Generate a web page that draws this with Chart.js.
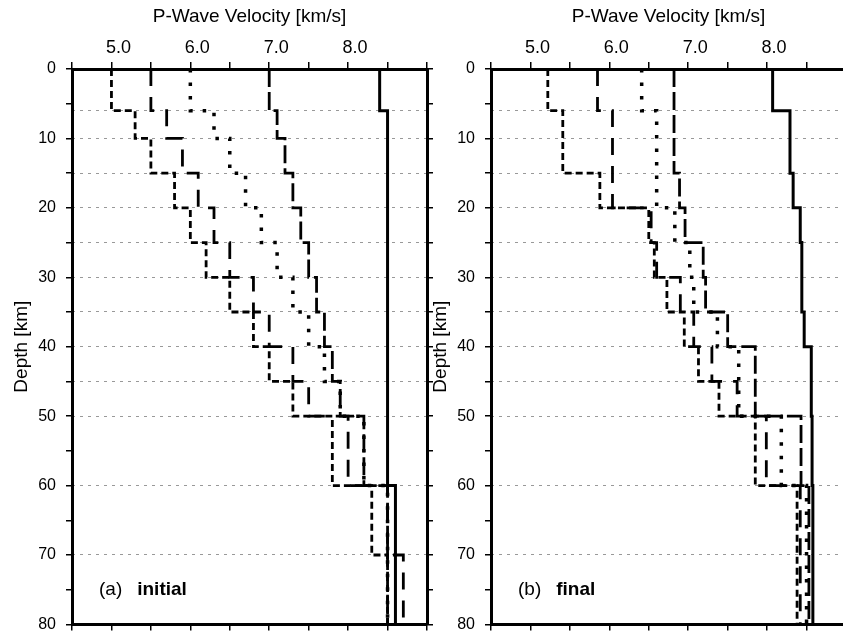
<!DOCTYPE html>
<html>
<head>
<meta charset="utf-8">
<script src="https://cdn.jsdelivr.net/npm/chart.js@4.4.1/dist/chart.umd.min.js"></script>
<style>
  html, body { margin: 0; padding: 0; background: #fff; overflow: hidden; width: 843px; height: 644px; }
  canvas { position: absolute; top: 0; }
  #initial { left: 0; }
  #final { left: 419px; }
</style>
</head>
<body>
<canvas id="initial" width="436" height="644"></canvas>
<canvas id="final" width="436" height="644"></canvas>
<script>
// layer tops [km]; each layer runs down to the next top, the last one to 80 km
const layerTops = [0, 6, 10, 15, 20, 25, 30, 35, 40, 45, 50, 60, 70];
const maxDepth = 80;
// dotted lines across the panels at the model interfaces
const interfaces = [6, 10, 15, 20, 25, 30, 35, 40, 45, 50, 60, 70];

// (a) initial models, velocity per layer [km/s]
const initShortDash = [5.0, 5.3, 5.5, 5.8, 6.0, 6.2, 6.5, 6.8, 7.0, 7.3, 7.8, 8.3, 8.5];
const initLongDash  = [5.5, 5.7, 5.9, 6.1, 6.3, 6.5, 6.8, 7.0, 7.3, 7.5, 8.0, 8.5, 8.7];
const initDotted    = [6.0, 6.3, 6.5, 6.7, 6.9, 7.1, 7.3, 7.5, 7.7, 7.9, 8.2, 8.5, 8.5];
const initDashDot   = [7.0, 7.1, 7.2, 7.3, 7.4, 7.5, 7.6, 7.7, 7.8, 7.9, 8.2, 8.5, 8.5];
const initSolid     = [8.4, 8.5, 8.5, 8.5, 8.5, 8.5, 8.5, 8.5, 8.5, 8.5, 8.5, 8.6, 8.6];

// (b) final models
const finalShortDash = [5.22, 5.41, 5.41, 5.88, 6.50, 6.57, 6.73, 6.95, 7.13, 7.39, 7.85, 8.38, 8.38];
const finalLongDash  = [5.85, 6.04, 6.04, 6.04, 6.53, 6.60, 6.90, 7.07, 7.30, 7.62, 7.99, 8.42, 8.42];
const finalDotted    = [6.41, 6.60, 6.60, 6.60, 6.83, 7.02, 7.07, 7.37, 7.64, 7.64, 8.18, 8.50, 8.50];
const finalDashDot   = [6.82, 6.82, 6.82, 6.89, 6.96, 7.19, 7.22, 7.50, 7.85, 7.85, 8.43, 8.53, 8.53];
const finalSolid     = [8.07, 8.29, 8.29, 8.33, 8.42, 8.44, 8.44, 8.47, 8.56, 8.56, 8.57, 8.58, 8.58];

const family = '"Liberation Sans", Arial, Helvetica, sans-serif';

// line styles, same order as the series
const lineStyles = [
  { dash: [7, 4], width: 2.8 },
  { dash: [17, 11], width: 2.8 },
  { dash: [3.5, 10], width: 3.5 },
  { dash: [18, 5], width: 2.8 },
  { dash: [], width: 3 },
];

function profile(vel) {
  const pts = vel.map((v, i) => ({ x: v, y: layerTops[i] }));
  pts.push({ x: vel[vel.length - 1], y: maxDepth });
  return pts;
}

const panelLabel = {
  id: 'panelLabel',
  afterDraw(chart, args, opts) {
    const { ctx, chartArea } = chart;
    const x = chartArea.left + 27;
    const y = chartArea.bottom - 29;
    ctx.save();
    ctx.fillStyle = '#000';
    ctx.textBaseline = 'alphabetic';
    ctx.font = '19px ' + family;
    ctx.fillText(opts.tag, x, y);
    const w = ctx.measureText(opts.tag).width;
    ctx.font = 'bold 19px ' + family;
    ctx.fillText(opts.word, x + w + 15, y);
    ctx.restore();
  }
};

const frame = { display: true, color: '#000', width: 3 };
const tickMarks = (len) => ({ drawOnChartArea: false, color: '#000', lineWidth: 1.5, tickLength: len });

function makeChart(id, series, tag, word) {
  new Chart(document.getElementById(id), {
    type: 'line',
    data: {
      datasets: series.map((vel, i) => ({
        data: profile(vel),
        xAxisID: 'x',
        yAxisID: 'y',
        stepped: 'after',
        borderColor: '#000',
        borderWidth: lineStyles[i].width,
        borderDash: lineStyles[i].dash,
        pointRadius: 0,
        fill: false,
      })),
    },
    plugins: [panelLabel],
    options: {
      responsive: false,
      animation: false,
      events: [],
      layout: { padding: 0 },
      plugins: {
        legend: { display: false },
        tooltip: { enabled: false },
        panelLabel: { tag, word },
      },
      scales: {
        x: {
          type: 'linear', position: 'top', min: 4.5, max: 9,
          afterFit: (s) => { s.height = 69; },
          ticks: {
            stepSize: 0.5, autoSkip: false, maxRotation: 0, padding: 3, labelOffset: 7,
            color: '#000', font: { family, size: 18 },
            callback: (v) => (Number.isInteger(v) && v < 9 ? v.toFixed(1) : ''),
          },
          grid: tickMarks(7),
          border: frame,
          title: {
            display: true, text: 'P-Wave Velocity [km/s]', color: '#000',
            font: { family, size: 19 }, padding: { top: 5, bottom: 0 },
          },
        },
        x2: {
          type: 'linear', position: 'bottom', min: 4.5, max: 9,
          afterFit: (s) => { s.height = 10; },
          ticks: { stepSize: 0.5, autoSkip: false, callback: () => '' },
          grid: tickMarks(6),
          border: frame,
        },
        y: {
          type: 'linear', position: 'left', reverse: true, min: 0, max: 80,
          afterFit: (s) => { s.width = 72; },
          ticks: {
            stepSize: 5, autoSkip: false, padding: 10,
            color: '#000', font: { family, size: 16 },
            callback: (v) => (v % 10 === 0 ? String(v) : ''),
          },
          grid: tickMarks(6),
          border: frame,
          title: {
            display: true, text: 'Depth [km]', color: '#000',
            font: { family, size: 19 }, padding: { top: 10, bottom: 0 },
          },
        },
        y2: {
          type: 'linear', position: 'right', reverse: true, min: 0, max: 80,
          afterFit: (s) => { s.width = 9; },
          ticks: { stepSize: 5, autoSkip: false, callback: () => '' },
          grid: tickMarks(6),
          border: frame,
        },
        yg: {
          type: 'linear', position: 'left', reverse: true, min: 0, max: 80,
          afterFit: (s) => { s.width = 0; },
          afterBuildTicks: (s) => { s.ticks = interfaces.map((v) => ({ value: v })); },
          ticks: { display: false },
          grid: { drawTicks: false, color: '#999', lineWidth: 1 },
          border: { display: false, dash: [3, 5] },
        },
      },
    },
  });
}

makeChart('initial', [initShortDash, initLongDash, initDotted, initDashDot, initSolid], '(a)', 'initial');
makeChart('final', [finalShortDash, finalLongDash, finalDotted, finalDashDot, finalSolid], '(b)', 'final');
</script>
</body>
</html>
